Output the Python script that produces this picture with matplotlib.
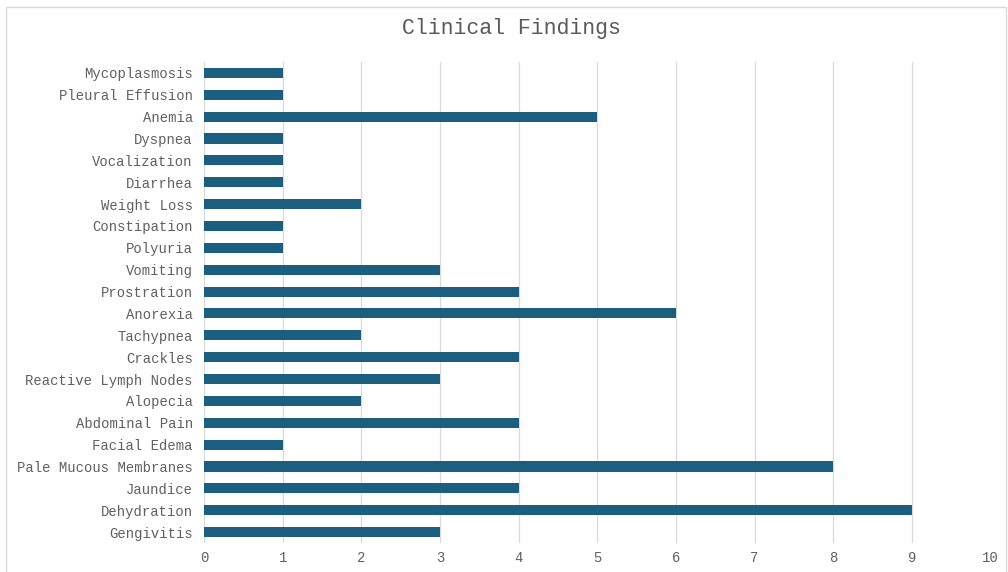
import matplotlib.pyplot as plt
from matplotlib.patches import Rectangle

# Clinical findings and how many cases showed each one (listed top to bottom)
findings = ['Mycoplasmosis', 'Pleural Effusion', 'Anemia', 'Dyspnea', 'Vocalization',
            'Diarrhea', 'Weight Loss', 'Constipation', 'Polyuria', 'Vomiting',
            'Prostration', 'Anorexia', 'Tachypnea', 'Crackles', 'Reactive Lymph Nodes',
            'Alopecia', 'Abdominal Pain', 'Facial Edema', 'Pale Mucous Membranes',
            'Jaundice', 'Dehydration', 'Gengivitis']
counts = [1, 1, 5, 1, 1, 1, 2, 1, 1, 3, 4, 6, 2, 4, 3, 2, 4, 1, 8, 4, 9, 3]
xticks = list(range(0, 11))

plt.rcParams['font.family'] = ['Liberation Mono', 'DejaVu Sans Mono']

fig = plt.figure(figsize=(10.08, 5.72), dpi=100)
ax = fig.add_axes([0.2024, 0.0507, 0.7802, 0.8409])

ypos = list(range(len(findings)))[::-1]
ax.barh(ypos, counts, height=0.46, color='#1b5e80', zorder=3)

ax.set_xlim(0, 10)
ax.set_ylim(-0.5, len(findings) - 0.5)
ax.set_yticks(ypos)
ax.set_yticklabels(findings)
ax.set_xticks(xticks)
ax.tick_params(length=0, labelsize=10, labelcolor='#606060')
ax.tick_params(axis='y', pad=8)
ax.tick_params(axis='x', pad=6)
ax.grid(axis='x', color='#d9d9d9', linewidth=0.9, zorder=0)
for s in ax.spines.values():
    s.set_visible(False)

fig.text(0.507, 0.95, 'Clinical Findings', ha='center', va='center',
         fontsize=15.5, color='#595959')

# light frame round the whole chart
fig.patches.append(Rectangle((6 / 1008, -0.01), 1000 / 1008, 1 - 7 / 572 + 0.01,
                             transform=fig.transFigure, fill=False,
                             edgecolor='#d9d9d9', linewidth=1))

fig.savefig('out.png', dpi=100)
